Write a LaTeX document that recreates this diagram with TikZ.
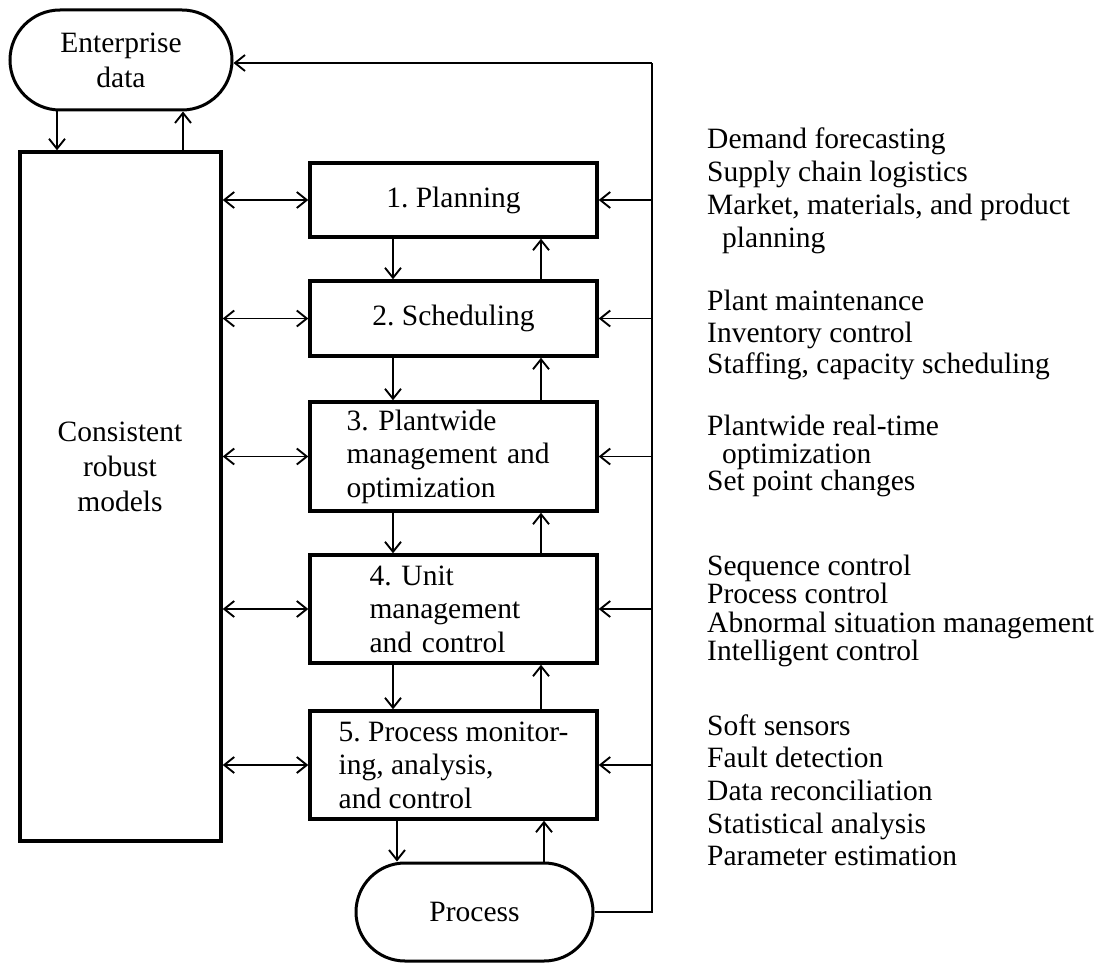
\documentclass[tikz,border=0pt]{standalone}
\usepackage{fontspec}
\setmainfont{Liberation Serif}
\usetikzlibrary{arrows.meta,shapes.misc}
\begin{document}
\frenchspacing
\begin{tikzpicture}[x=1pt,y=-1pt,
  font=\fontsize{29.5}{33.5}\selectfont\frenchspacing,
  box/.style={draw,line width=3.4pt,minimum width=287pt,inner sep=0pt,align=left},
  stad/.style={draw,rounded rectangle,line width=3pt,inner sep=0pt,align=center},
  arr/.style={line width=1.9pt,-{Straight Barb[length=10pt,width=16pt]}},
  darr/.style={line width=1.9pt,{Straight Barb[length=10pt,width=16pt]}-{Straight Barb[length=10pt,width=16pt]}},
  side/.style={anchor=base west,inner sep=0pt},
  ]
\useasboundingbox (0,0) rectangle (1102,963);

% main nodes
\node[stad,minimum width=222pt,minimum height=100pt,
      font=\fontsize{29.5}{35}\selectfont] (ent) at (121,60) {Enterprise\\data};
\node[draw,line width=3.4pt,minimum width=201pt,minimum height=689pt,inner sep=0pt] (cons) at (120.5,496.5) {};
\node[align=center,inner sep=0pt,font=\fontsize{29.5}{35}\selectfont] (consT) at (120,467) {Consistent\\robust\\models};

\node[box,minimum height=74pt]  (b1) at (453.5,200)   {1. Planning};
\node[box,minimum height=75pt]  (b2) at (453.5,318.5) {2. Scheduling};
\node[box,minimum height=109pt,text width=214pt] (b3) at (453.5,456.5) {3. Plantwide\\management and\\optimization};
\node[box,minimum height=108pt,text width=168pt] (b4) at (453.5,609)   {4. Unit\\management\\and control};
\node[box,minimum height=108pt] (b5) at (453.5,765)   {5. Process monitor-\\ing, analysis,\\and control};

\node[stad,minimum width=237pt,minimum height=98pt] (proc) at (474.5,912) {Process};

% helper coordinates
\coordinate (top) at (652,63);
\coordinate (xa) at (57,0);
\coordinate (xb) at (183,0);
\coordinate (xd) at (393,0);
\coordinate (xu) at (541,0);
\coordinate (xd2) at (397,0);
\coordinate (xu2) at (544,0);

% enterprise <-> models
\draw[arr] (xa |- ent.south) -- (xa |- cons.north);
\draw[arr] (xb |- cons.north) -- (xb |- ent.south);

% models <-> boxes, trunk -> boxes
\foreach \b in {b1,b2,b3,b4,b5}{
  \draw[darr] (cons.east |- \b.west) -- (\b.west);
  \draw[arr] (top |- \b.east) -- (\b.east);
}

% between boxes
\draw[arr] (xd |- b1.south) -- (xd |- b2.north);
\draw[arr] (xu |- b2.north) -- (xu |- b1.south);
\draw[arr] (xd |- b2.south) -- (xd |- b3.north);
\draw[arr] (xu |- b3.north) -- (xu |- b2.south);
\draw[arr] (xd |- b3.south) -- (xd |- b4.north);
\draw[arr] (xu |- b4.north) -- (xu |- b3.south);
\draw[arr] (xd |- b4.south) -- (xd |- b5.north);
\draw[arr] (xu |- b5.north) -- (xu |- b4.south);
\draw[arr] (xd2 |- b5.south) -- (xd2 |- proc.north);
\draw[arr] (xu2 |- proc.north) -- (xu2 |- b5.south);

% feedback trunk
\draw[line width=1.9pt] (proc.east) -| (top);
\draw[arr] (top) -- (ent.east |- top);

% right-hand texts
\node[side] (r1)  at (707,148) {Demand forecasting};
\node[side] (r2)  at (707,181) {Supply chain logistics};
\node[side] (r3)  at (707,214) {Market, materials, and product};
\node[side] (r4)  at (722,247) {planning};
\node[side] (r5)  at (707,310) {Plant maintenance};
\node[side] (r6)  at (707,342) {Inventory control};
\node[side] (r7)  at (707,373) {Staffing, capacity scheduling};
\node[side] (r8)  at (707,435) {Plantwide real-time};
\node[side] (r9)  at (722,463) {optimization};
\node[side] (r10) at (707,490) {Set point changes};
\node[side] (r11) at (707,575) {Sequence control};
\node[side] (r12) at (707,603) {Process control};
\node[side] (r13) at (707,632) {Abnormal situation management};
\node[side] (r14) at (707,660) {Intelligent control};
\node[side] (r15) at (707,735) {Soft sensors};
\node[side] (r16) at (707,767) {Fault detection};
\node[side] (r17) at (707,800) {Data reconciliation};
\node[side] (r18) at (707,833) {Statistical analysis};
\node[side] (r19) at (707,865) {Parameter estimation};
\end{tikzpicture}
\end{document}
